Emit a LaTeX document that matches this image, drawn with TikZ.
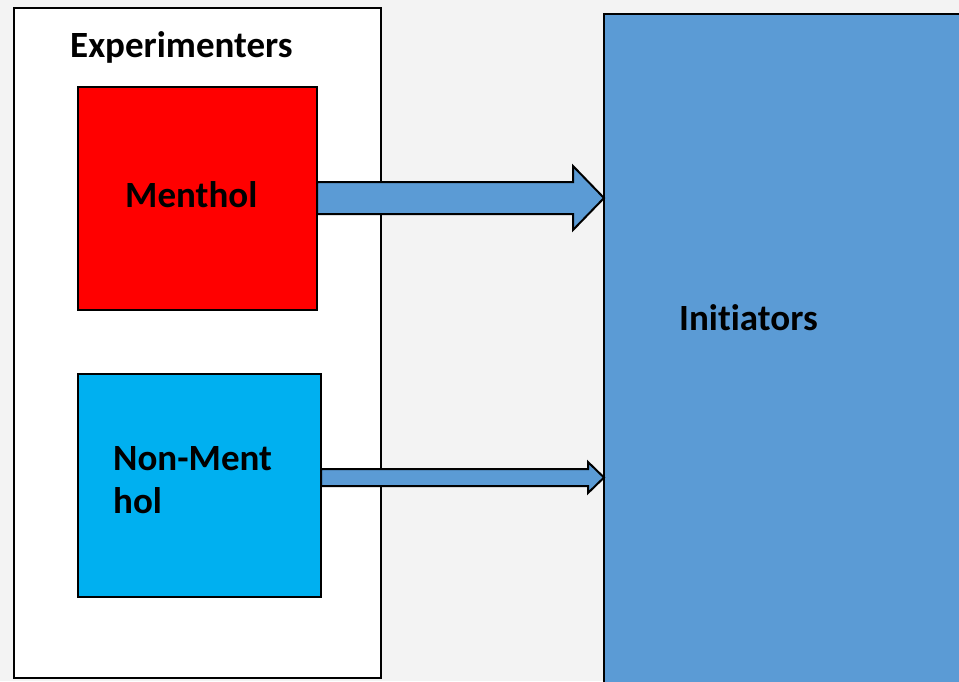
\documentclass[tikz,border=0pt]{standalone}
\usepackage{fontspec}
\setmainfont{Carlito}[Ligatures={NoCommon}]
\usetikzlibrary{calc}
\definecolor{bgc}{HTML}{F3F3F3}
\definecolor{initc}{HTML}{5B9BD5}
\definecolor{nmc}{HTML}{00B0F0}
\definecolor{mc}{HTML}{FF0000}
\tikzset{
  box/.style={draw=black, line width=2pt, anchor=north west, inner sep=0pt, outer sep=0pt},
  lbl/.style={anchor=base west, inner sep=0pt, font=\fontsize{37}{43}\selectfont\bfseries, align=left},
  blockarrow/.style={draw=black, line width=2pt, fill=initc, line join=miter}
}
\begin{document}
\begin{tikzpicture}[x=1pt,y=-1pt]
\useasboundingbox (0,0) rectangle (959,681);
\clip (0,0) rectangle (959,681);
\fill[bgc] (0,0) rectangle (959,681);
% boxes
\node[box, fill=white, minimum width=367pt, minimum height=670pt, line width=2.5pt] (exp) at (14,8) {};
\node[box, fill=initc, minimum width=400pt, minimum height=720pt] (init) at (604,14) {};
% arrows
\coordinate (t1) at (init.west |- 0,198);
\coordinate (t2) at (init.west |- 0,477.5);
\draw[blockarrow] (317,182) -- (573,182) -- (573,166) -- (t1) -- (573,230) -- (573,214) -- (317,214) -- cycle;
\draw[blockarrow] (321,469) -- (588,469) -- (588,462) -- (t2) -- (588,493) -- (588,486) -- (321,486) -- cycle;
% inner boxes
\node[box, fill=mc, minimum width=239pt, minimum height=223pt] (menthol) at (78,87) {};
\node[box, fill=nmc, minimum width=243pt, minimum height=223pt] (nonmenthol) at (78,374) {};
% labels
\node[lbl] (lexp) at (70,57) {Experimenters};
\node[lbl] (lmen) at (125,207) {Menthol};
\node[lbl] (linit) at (679,330) {Initiators};
\node[lbl] (lnon) at (113,513) {Non-Ment\\hol};
\end{tikzpicture}
\end{document}
